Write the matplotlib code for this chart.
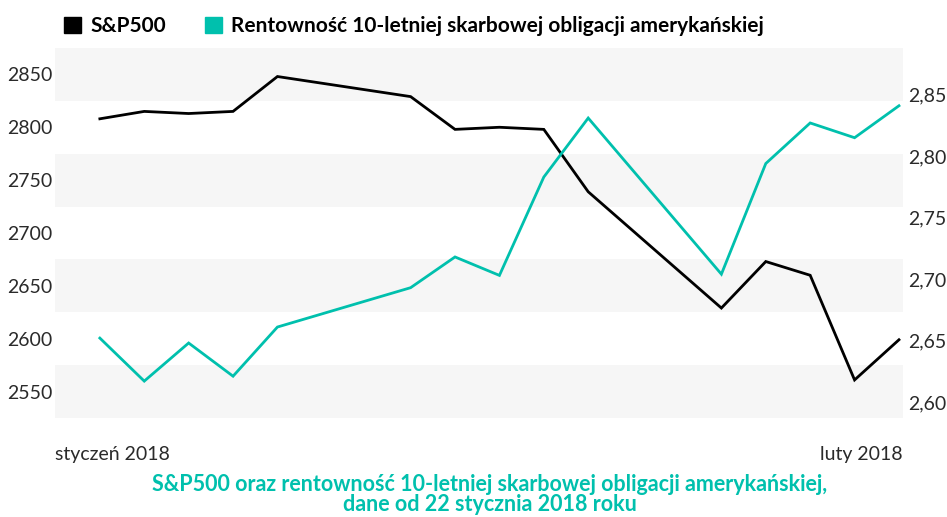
import matplotlib
matplotlib.use("Agg")
import matplotlib.pyplot as plt
import matplotlib.dates as mdates
from matplotlib.patches import Patch
import numpy as np
import pandas as pd

# data (trading days from 22 Jan 2018)
dates = pd.to_datetime([
    "2018-01-22", "2018-01-23", "2018-01-24", "2018-01-25", "2018-01-26",
    "2018-01-29", "2018-01-30", "2018-01-31", "2018-02-01", "2018-02-02",
    "2018-02-05", "2018-02-06", "2018-02-07", "2018-02-08", "2018-02-09",
])
sp500 = [2808, 2815, 2813, 2815, 2848, 2829, 2798, 2800, 2798, 2739,
         2629, 2673, 2660, 2561, 2599]
yield10 = [2.652, 2.617, 2.648, 2.621, 2.661, 2.693, 2.718, 2.703, 2.783,
           2.831, 2.704, 2.794, 2.827, 2.815, 2.841]

left_ticks = [2550, 2600, 2650, 2700, 2750, 2800, 2850]
right_ticks = [2.60, 2.65, 2.70, 2.75, 2.80, 2.85]
x_labels = ["styczeń 2018", "luty 2018"]
legend_labels = ["S&P500", "Rentowność 10-letniej skarbowej obligacji amerykańskiej"]
title = ("S&P500 oraz rentowność 10-letniej skarbowej obligacji amerykańskiej,\n"
         "dane od 22 stycznia 2018 roku")

BLACK = "#000000"
TEAL = "#00c0ad"
BAND = "#f6f6f6"
FONT = "Lato"

plt.rcParams["font.family"] = [FONT, "DejaVu Sans"]

fig = plt.figure(figsize=(9.47, 5.17), dpi=100)
ax = fig.add_axes([0.0581, 0.1915, 0.8954, 0.7157])
ax2 = ax.twinx()

# grey bands centred on every other left tick
for t in left_ticks[::2]:
    ax.axhspan(t - 25, t + 25, color=BAND, lw=0, zorder=0)

ax.plot(dates, sp500, color=BLACK, lw=2.0, solid_joinstyle="miter", zorder=3)
ax2.plot(dates, yield10, color=TEAL, lw=2.0, solid_joinstyle="miter", zorder=3)

x0 = mdates.date2num(dates[0]) - 1.01
x1 = mdates.date2num(dates[-1]) + 0.09
ax.set_xlim(x0, x1)
ax.set_ylim(2525, 2875)
ax2.set_ylim(2.587, 2.888)

ax.set_yticks(left_ticks)
ax.set_yticklabels([str(t) for t in left_ticks])
ax2.set_yticks(right_ticks)
ax2.set_yticklabels([f"{t:.2f}".replace(".", ",") for t in right_ticks])

ax.set_xticks([x0, x1])
ax.set_xticklabels(x_labels)
xl = ax.get_xticklabels()
xl[0].set_ha("left")
xl[1].set_ha("right")

for a in (ax, ax2):
    for s in a.spines.values():
        s.set_visible(False)
    a.tick_params(length=0, labelsize=14, colors="#2a2a2a")
ax.tick_params(axis="y", pad=2)
ax2.tick_params(axis="y", pad=4)
ax.tick_params(axis="x", pad=20, labelsize=14)

handles = [Patch(color=BLACK), Patch(color=TEAL)]
fig.legend(handles, legend_labels, loc="upper left", bbox_to_anchor=(0.048, 1.005),
           ncol=2, frameon=False, handlelength=0.8, handleheight=0.8,
           handletextpad=0.45, columnspacing=1.9,
           prop={"family": [FONT, "DejaVu Sans"], "weight": "bold", "size": 15})

fig.text(0.517, 0.004, title, ha="center", va="bottom", color=TEAL,
         fontsize=15.5, fontweight="bold", linespacing=0.95)

fig.savefig("out.png", dpi=100, facecolor="white")
